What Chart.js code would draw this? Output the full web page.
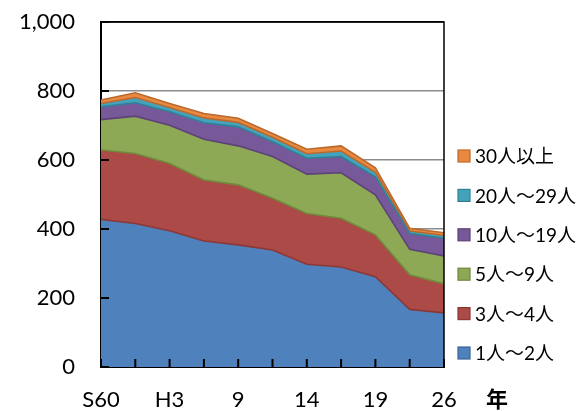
<!DOCTYPE html>
<html>
<head>
<meta charset="utf-8">
<script src="https://cdn.jsdelivr.net/npm/chart.js@4"></script>
<style>
  html, body { margin: 0; padding: 0; background: #fff; }
  #wrap { width: 587px; height: 411px; }
</style>
</head>
<body>
<div id="wrap"><canvas id="chart"></canvas></div>
<script>
// 調査年（ラベルは1つおきに表示）
const years = ['S60', '63', 'H3', '6', '9', '11', '14', '16', '19', '24', '26'];
const shownYears = ['S60', 'H3', '9', '14', '19', '26'];
const yTicks = [0, 200, 400, 600, 800, 1000];

// 従業者規模別（下から積み上げ）
const seriesNames = ['1人～2人', '3人～4人', '5人～9人', '10人～19人', '20人～29人', '30人以上'];
const size1to2 = [428, 416, 395, 365, 354, 339, 298, 290, 262, 167, 157];
const size3to4 = [201, 203, 195, 177, 174, 150, 147, 141, 121, 100, 84];
const size5to9 = [88, 108, 111, 118, 113, 121, 114, 132, 116, 74, 81];
const size10to19 = [37, 39, 39, 48, 55, 43, 46, 47, 52, 46, 51];
const size20to29 = [10, 15, 12, 14, 13, 13, 13, 16, 13, 7, 8];
const size30plus = [10, 14, 12, 13, 12, 11, 13, 15, 13, 8, 8];

const allSeries = [size1to2, size3to4, size5to9, size10to19, size20to29, size30plus];
const fills = ['#4F81BD', '#AB4A47', '#8DA955', '#77599A', '#44A3BC', '#E8893F'];
const darks = ['#3A6393', '#8C3836', '#6F8A3B', '#5C4278', '#2F8096', '#B9692D'];

const FONT = 'Lato, "Noto Sans CJK JP", sans-serif';

const datasets = allSeries.map((vals, i) => ({
    label: seriesNames[i],
    data: vals,
    backgroundColor: fills[i],
    // 境界線は上の系列の濃い色（Excel風）
    borderColor: i < allSeries.length - 1 ? darks[i + 1] : darks[i],
    borderWidth: 1.6,
    fill: i === 0 ? 'origin' : '-1',
    pointRadius: 0,
    tension: 0
}));

const extras = {
    id: 'extras',
    afterDatasetsDraw(chart) {
        const { ctx, chartArea: a, scales: { x, y } } = chart;
        ctx.save();
        ctx.strokeStyle = '#000';
        // 枠（上・右）
        ctx.lineWidth = 1.5;
        ctx.beginPath();
        ctx.moveTo(a.left, a.top);
        ctx.lineTo(a.right, a.top);
        ctx.lineTo(a.right, a.bottom);
        ctx.stroke();
        // 内向き目盛り
        ctx.lineWidth = 2;
        ctx.beginPath();
        yTicks.forEach(v => {
            const py = y.getPixelForValue(v);
            ctx.moveTo(a.left, py);
            ctx.lineTo(a.left + 8, py);
        });
        years.forEach((_, i) => {
            const px = x.getPixelForValue(i);
            ctx.moveTo(px, a.bottom);
            ctx.lineTo(px, a.bottom - 8);
        });
        ctx.stroke();

        // 凡例（上から 30人以上 …）
        ctx.font = '19px ' + FONT;
        ctx.textBaseline = 'middle';
        ctx.textAlign = 'left';
        for (let k = 0; k < datasets.length; k++) {
            const i = datasets.length - 1 - k;
            const cy = 156 + k * 39.4;
            ctx.fillStyle = fills[i];
            ctx.fillRect(458, cy - 6, 12, 12);
            ctx.lineWidth = 1.2;
            ctx.strokeStyle = darks[i];
            ctx.strokeRect(458, cy - 6, 12, 12);
            ctx.fillStyle = '#000';
            ctx.fillText(seriesNames[i], 475, cy + 1);
        }

        // 「年」
        ctx.font = 'bold 22px "Noto Sans CJK JP", sans-serif';
        ctx.textAlign = 'center';
        ctx.fillText('年', 497, 399);
        ctx.restore();
    }
};

new Chart(document.getElementById('chart'), {
    type: 'line',
    data: { labels: years, datasets },
    options: {
        responsive: true,
        maintainAspectRatio: false,
        animation: false,
        layout: { padding: { left: 0, right: 143, top: 22, bottom: 0 } },
        plugins: { legend: { display: false }, tooltip: { enabled: false } },
        scales: {
            x: {
                offset: false,
                grid: { display: false, drawTicks: false },
                border: { color: '#000', width: 2 },
                ticks: {
                    autoSkip: false,
                    maxRotation: 0,
                    padding: 20,
                    color: '#000',
                    font: { family: FONT, size: 22 },
                    callback: function (v, i) {
                        const lab = this.getLabelForValue(v);
                        return shownYears.includes(lab) ? lab : '';
                    }
                },
                afterFit: s => { s.height = 44; s.paddingLeft = 0; s.paddingRight = 0; }
            },
            y: {
                stacked: true,
                min: 0,
                max: 1000,
                grid: {
                    drawTicks: false,
                    color: c => c.tick && c.tick.value === 1000 ? '#000' : '#8C8C8C',
                    lineWidth: 1.5
                },
                border: { color: '#000', width: 2 },
                ticks: {
                    stepSize: 200,
                    padding: 26,
                    color: '#000',
                    font: { family: FONT, size: 22 },
                    callback: v => v.toLocaleString('en-US')
                },
                afterFit: s => { s.width = 101; s.paddingTop = 0; s.paddingBottom = 0; }
            }
        }
    },
    plugins: [extras]
});
</script>
</body>
</html>
